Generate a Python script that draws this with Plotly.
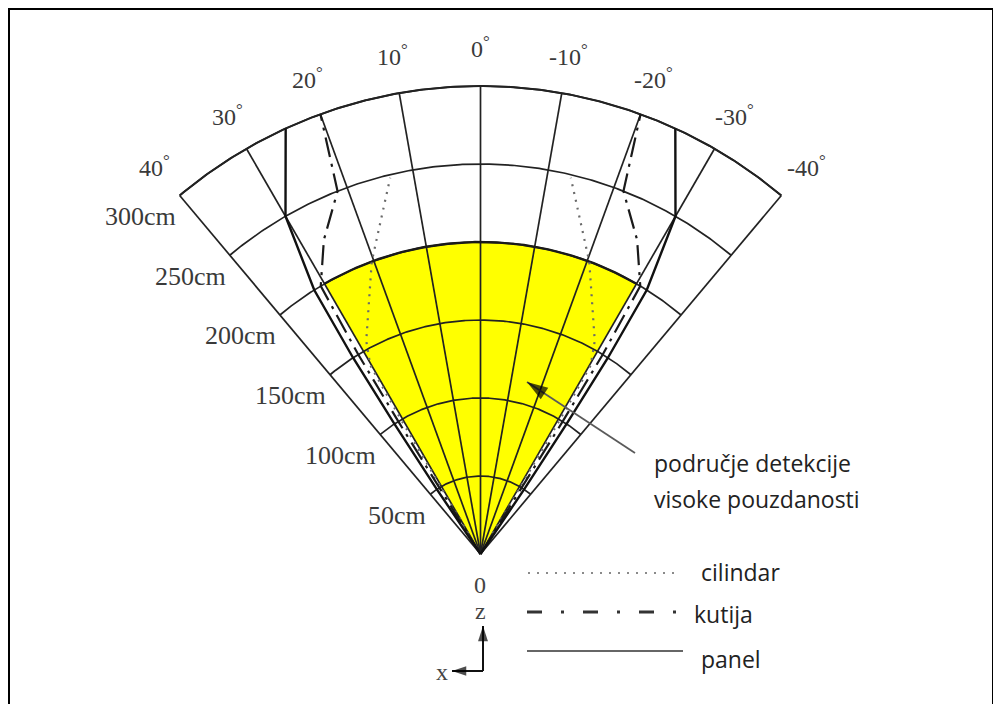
import numpy as np
import plotly.graph_objects as go

# ---------------- data ----------------
ring_radii_cm = [50, 100, 150, 200, 250, 300]
ray_angles_deg = [40, 30, 20, 10, 0, -10, -20, -30, -40]
angle_tick_labels = ["40", "30", "20", "10", "0", "-10", "-20", "-30", "-40"]
radius_tick_labels = ["50cm", "100cm", "150cm", "200cm", "250cm", "300cm"]
sector_half_angle_deg = 40
max_range_cm = 300
high_rel_half_angle_deg = 30
high_rel_range_cm = 200

# detection boundaries (left half, angle in degrees, mirrored for right half)
cilindar_r = [0, 50, 100, 140, 155, 200, 248]
cilindar_theta = [30.8, 30.8, 30.6, 30.3, 28.2, 20.4, 13.5]
kutija_r = [0, 50, 100, 150, 200, 225, 250, 300]
kutija_theta = [32.0, 32.0, 31.8, 31.5, 30.8, 26.5, 21.5, 20.0]
panel_r = [0, 50, 100, 150, 200, 250, 300]
panel_theta = [34.0, 34.0, 33.5, 33.0, 32.2, 30.0, 24.6]

legend_names = ["cilindar", "kutija", "panel"]
pointer_text = ["područje detekcije", "visoke pouzdanosti"]

# ---------------- layout constants ----------------
PAGE = 8                   # browser body margin
W, H = 1001 - PAGE, 704 - PAGE
OX, OY = 480.5, 554.0      # pixel position of the sensor (page coords)
S = 1.56                   # pixels per cm

def pol(r, th):
    r = np.asarray(r, float)
    t = np.radians(np.asarray(th, float))
    return -r * np.sin(t), r * np.cos(t)

def pxd(px, py):
    return (px - OX) / S, (OY - py) / S

def pp(px, py):
    return (px - PAGE) / W, 1 - (py - PAGE) / H

fig = go.Figure()

# yellow high-reliability sector
th = np.linspace(-high_rel_half_angle_deg, high_rel_half_angle_deg, 121)
yx, yy = pol(np.full_like(th, high_rel_range_cm), th)
fig.add_trace(go.Scatter(x=np.r_[0, yx, 0], y=np.r_[0, yy, 0], mode="lines",
                         fill="toself", fillcolor="#FFFF00", line=dict(width=0),
                         hoverinfo="skip"))

GRID = "#222222"
gx, gy = [], []
tha = np.linspace(-sector_half_angle_deg, sector_half_angle_deg, 241)
for R in ring_radii_cm:
    x, y = pol(np.full_like(tha, R), tha)
    gx += list(x) + [None]
    gy += list(y) + [None]
for a in ray_angles_deg:
    x, y = pol([0, max_range_cm], [a, a])
    gx += list(x) + [None]
    gy += list(y) + [None]
fig.add_trace(go.Scatter(x=gx, y=gy, mode="lines", line=dict(color=GRID, width=1.7),
                         hoverinfo="skip"))
ox_, oy_ = pol(np.full_like(tha, max_range_cm), tha)
fig.add_trace(go.Scatter(x=ox_, y=oy_, mode="lines", line=dict(color=GRID, width=2),
                         hoverinfo="skip"))
fig.add_trace(go.Scatter(x=yx, y=yy, mode="lines", line=dict(color="#1a1a1a", width=2.4),
                         hoverinfo="skip"))

def mirrored(r, t):
    xl, yl = pol(r, t)
    xr, yr = pol(r, -np.asarray(t, float))
    return list(xl) + [None] + list(xr), list(yl) + [None] + list(yr)

cx, cy = mirrored(cilindar_r, cilindar_theta)
fig.add_trace(go.Scatter(x=cx, y=cy, mode="lines",
                         line=dict(color="#6a6a6a", width=2.2, dash="2px,6px"), hoverinfo="skip"))
kx, ky = mirrored(kutija_r, kutija_theta)
fig.add_trace(go.Scatter(x=kx, y=ky, mode="lines",
                         line=dict(color="#1a1a1a", width=2.2, dash="20px,7px,3px,7px"), hoverinfo="skip"))
qx, qy = mirrored(panel_r, panel_theta)
fig.add_trace(go.Scatter(x=qx, y=qy, mode="lines",
                         line=dict(color="#111111", width=2.4), hoverinfo="skip"))

ann = []
SERIF = "Liberation Serif"
TXT = "#3a3a3a"
for a, lab in zip(ray_angles_deg, angle_tick_labels):
    x, y = pol(325, a)
    ann.append(dict(x=float(x), y=float(y), xref="x", yref="y", text=lab + "<sup>°</sup>",
                    showarrow=False, font=dict(family=SERIF, size=24, color=TXT),
                    xanchor="center", yanchor="middle"))
for R, lab in zip(ring_radii_cm, radius_tick_labels):
    x, y = pol(R, sector_half_angle_deg)
    ann.append(dict(x=float(x), y=float(y), xref="x", yref="y", text=lab, showarrow=False,
                    font=dict(family=SERIF, size=26, color=TXT), xanchor="right",
                    yanchor="middle", xshift=-2, yshift=-21))
for t, (px_, py_) in zip(["0", "z", "x"], [(480, 585), (480, 611), (442, 672)]):
    x, y = pxd(px_, py_)
    ann.append(dict(x=x, y=y, xref="x", yref="y", text=t, showarrow=False,
                    font=dict(family=SERIF, size=24, color="#444444"),
                    xanchor="center", yanchor="middle"))

SANS = "Open Sans"
for t, py_ in zip(pointer_text, [463, 499]):
    x, y = pp(652, py_)
    ann.append(dict(x=x, y=y, xref="paper", yref="paper", text=t, showarrow=False,
                    font=dict(family=SANS, size=23, color="#222222"),
                    xanchor="left", yanchor="middle"))
for t, (px_, py_) in zip(legend_names, [(699, 572), (692, 614), (699, 659)]):
    x, y = pp(px_, py_)
    ann.append(dict(x=x, y=y, xref="paper", yref="paper", text=t, showarrow=False,
                    font=dict(family=SANS, size=23, color="#222222"),
                    xanchor="left", yanchor="middle"))

shapes = []
for (x0, x1, yv), ln in zip([(528, 676, 573), (527, 680, 612), (527, 683, 651)],
                            [dict(color="#8a8a8a", width=2.2, dash="2px,7px"),
                             dict(color="#333333", width=3, dash="15px,19px,3px,19px"),
                             dict(color="#666666", width=2)]):
    a0 = pp(x0, yv); a1 = pp(x1, yv)
    shapes.append(dict(type="line", xref="paper", yref="paper", x0=a0[0], y0=a0[1],
                       x1=a1[0], y1=a1[1], line=ln))
f0 = pp(9, 9); f1 = pp(993, 708)
shapes.append(dict(type="rect", xref="paper", yref="paper", x0=f0[0], y0=f1[1], x1=f1[0], y1=f0[1],
                   line=dict(color="#000000", width=2)))

pointer_tail = pxd(635, 453)
pointer_tip = pxd(527, 382)
z_tail, z_tip = pxd(483, 671), pxd(483, 626)
x_tail, x_tip = pxd(483, 671), pxd(452, 671)
fig.add_trace(go.Scatter(x=[pointer_tail[0], pointer_tip[0]], y=[pointer_tail[1], pointer_tip[1]],
                         mode="lines", line=dict(color="#5a5a5a", width=1.8), hoverinfo="skip"))
fig.add_trace(go.Scatter(x=[z_tail[0], z_tip[0], None, x_tail[0], x_tip[0]],
                         y=[z_tail[1], z_tip[1], None, x_tail[1], x_tip[1]],
                         mode="lines", line=dict(color="#111111", width=2), hoverinfo="skip"))
fig.add_trace(go.Scatter(x=[pointer_tip[0], z_tip[0], x_tip[0]],
                         y=[pointer_tip[1], z_tip[1], x_tip[1]], mode="markers",
                         marker=dict(symbol="arrow", size=[22, 16, 15], angle=[-56.7, 0, -90],
                                     color="#000000", line=dict(width=0)),
                         hoverinfo="skip"))

fig.update_layout(
    width=W, height=H, margin=dict(l=0, r=0, t=0, b=0),
    paper_bgcolor="white", plot_bgcolor="white", showlegend=False,
    xaxis=dict(range=[(PAGE - OX) / S, (1001 - OX) / S], visible=False, fixedrange=True),
    yaxis=dict(range=[(OY - 704) / S, (OY - PAGE) / S], visible=False, fixedrange=True),
    annotations=ann, shapes=shapes,
)
fig.write_html("out.html")
